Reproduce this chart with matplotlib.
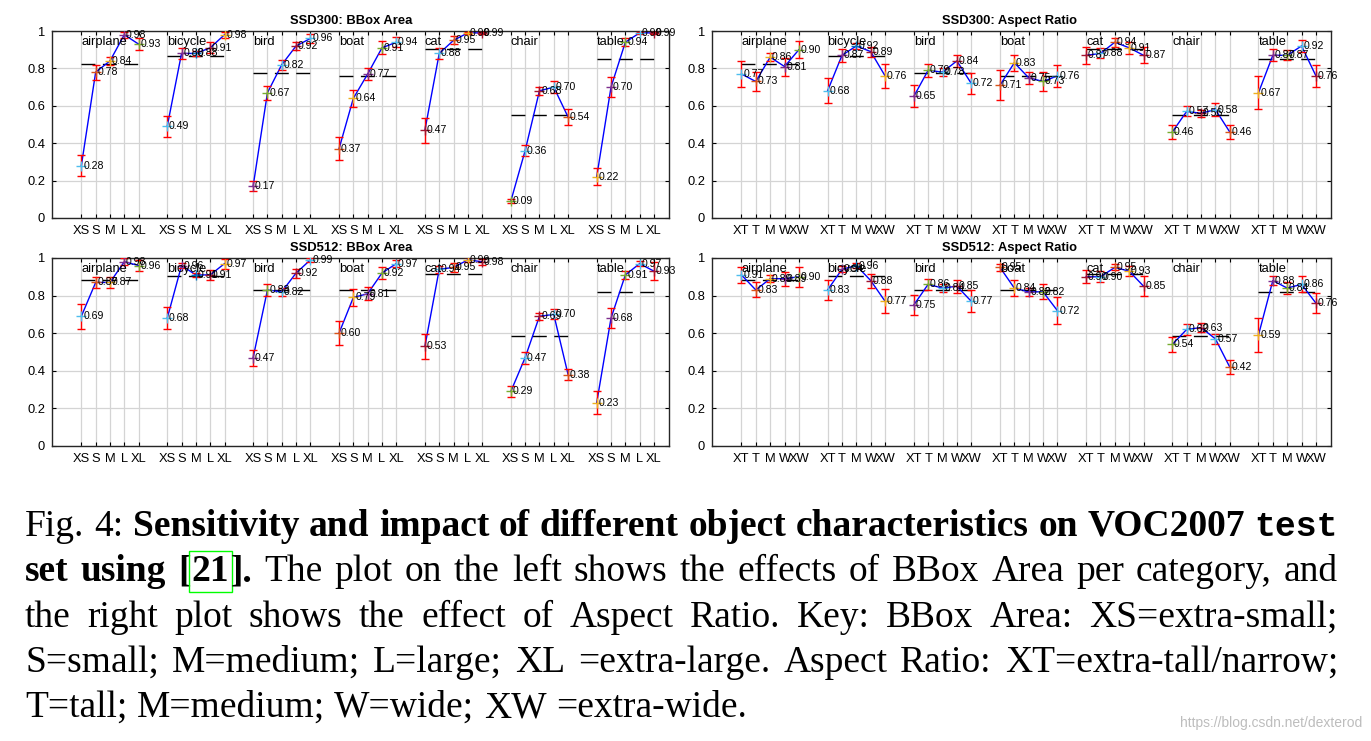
import matplotlib
matplotlib.use("Agg")
import matplotlib.pyplot as plt

# ---------------- data ----------------
categories = ["airplane", "bicycle", "bird", "boat", "cat", "chair", "table"]
area_labels = ["XS", "S", "M", "L", "XL"]
aspect_labels = ["XT", "T", "M", "W", "XW"]

ssd300_overall = [0.824, 0.867, 0.776, 0.758, 0.906, 0.550, 0.849]
ssd512_overall = [0.881, 0.903, 0.828, 0.828, 0.915, 0.584, 0.819]

ssd300_area = [
    [0.28, 0.78, 0.84, 0.98, 0.93],
    [0.49, 0.88, 0.88, 0.91, 0.98],
    [0.17, 0.67, 0.82, 0.92, 0.96],
    [0.37, 0.64, 0.77, 0.91, 0.94],
    [0.47, 0.88, 0.95, 0.99, 0.99],
    [0.09, 0.36, 0.68, 0.70, 0.54],
    [0.22, 0.70, 0.94, 0.99, 0.99],
]
ssd300_area_err = [
    [0.058, 0.040, 0.020, 0.017, 0.034],
    [0.057, 0.028, 0.015, 0.030, 0.015],
    [0.027, 0.037, 0.027, 0.020, 0.024],
    [0.061, 0.045, 0.033, 0.034, 0.027],
    [0.067, 0.028, 0.021, 0.006, 0.006],
    [0.012, 0.030, 0.020, 0.033, 0.041],
    [0.045, 0.053, 0.020, 0.007, 0.007],
]
ssd300_aspect = [
    [0.77, 0.73, 0.86, 0.81, 0.90],
    [0.68, 0.87, 0.92, 0.89, 0.76],
    [0.65, 0.79, 0.78, 0.84, 0.72],
    [0.71, 0.83, 0.75, 0.73, 0.76],
    [0.87, 0.88, 0.94, 0.91, 0.87],
    [0.46, 0.57, 0.56, 0.58, 0.46],
    [0.67, 0.87, 0.87, 0.92, 0.76],
]
ssd300_aspect_err = [
    [0.068, 0.053, 0.022, 0.048, 0.044],
    [0.067, 0.034, 0.014, 0.027, 0.064],
    [0.059, 0.036, 0.020, 0.031, 0.058],
    [0.080, 0.042, 0.033, 0.050, 0.059],
    [0.047, 0.027, 0.024, 0.033, 0.042],
    [0.037, 0.027, 0.020, 0.036, 0.040],
    [0.089, 0.033, 0.027, 0.031, 0.058],
]
ssd512_area = [
    [0.69, 0.87, 0.87, 0.98, 0.96],
    [0.68, 0.96, 0.91, 0.91, 0.97],
    [0.47, 0.83, 0.82, 0.92, 0.99],
    [0.60, 0.79, 0.81, 0.92, 0.97],
    [0.53, 0.94, 0.95, 0.99, 0.98],
    [0.29, 0.47, 0.69, 0.70, 0.38],
    [0.23, 0.68, 0.91, 0.97, 0.93],
]
ssd512_area_err = [
    [0.065, 0.028, 0.028, 0.018, 0.027],
    [0.060, 0.012, 0.012, 0.028, 0.027],
    [0.042, 0.032, 0.021, 0.024, 0.010],
    [0.064, 0.044, 0.034, 0.033, 0.018],
    [0.065, 0.020, 0.023, 0.013, 0.015],
    [0.027, 0.032, 0.020, 0.027, 0.031],
    [0.060, 0.053, 0.022, 0.012, 0.049],
]
ssd512_aspect = [
    [0.91, 0.83, 0.89, 0.89, 0.90],
    [0.83, 0.94, 0.96, 0.88, 0.77],
    [0.75, 0.86, 0.84, 0.85, 0.77],
    [0.95, 0.84, 0.82, 0.82, 0.72],
    [0.90, 0.90, 0.95, 0.93, 0.85],
    [0.54, 0.62, 0.63, 0.57, 0.42],
    [0.59, 0.88, 0.84, 0.86, 0.76],
]
ssd512_aspect_err = [
    [0.042, 0.040, 0.020, 0.037, 0.053],
    [0.051, 0.016, 0.013, 0.037, 0.064],
    [0.055, 0.028, 0.022, 0.034, 0.058],
    [0.017, 0.044, 0.020, 0.040, 0.071],
    [0.035, 0.030, 0.016, 0.025, 0.053],
    [0.041, 0.027, 0.026, 0.027, 0.037],
    [0.089, 0.025, 0.030, 0.042, 0.053],
]

# ---------------- styles ----------------
PALETTE = {
    "B": (0.0, 0.447, 0.741), "O": (0.85, 0.325, 0.098), "Y": (0.929, 0.694, 0.125),
    "P": (0.494, 0.184, 0.556), "G": (0.466, 0.674, 0.188), "C": (0.301, 0.745, 0.933),
    "R": (0.635, 0.078, 0.184),
}
marker_colors = ["COYPG", "CPBRY", "PGCRC", "OYPGC", "RCOYR", "GCRCO", "YPGCR"]

plt.rcParams["font.family"] = ["Liberation Sans", "DejaVu Sans"]

W, H = 1371, 741
fig = plt.figure(figsize=(W / 100, H / 100), dpi=100)
fig.patch.set_facecolor("white")


def px_axes(left, top, right, bottom):
    return fig.add_axes([left / W, (H - bottom) / H, (right - left) / W, (bottom - top) / H])


def draw_panel(ax, vals, errs, overall, xlabels, title, title_x):
    ticks, ticklabels = [], []
    for g, cat in enumerate(categories):
        xs = [g * 6 + i + 1 for i in range(5)]
        ticks += xs
        ticklabels += xlabels
        ax.plot([xs[0], xs[-1]], [overall[g]] * 2, color="k", lw=1.0,
                ls=(0, (10.0, 5.4)), zorder=2)
        ax.plot(xs, vals[g], color=(0, 0, 1), lw=1.0, zorder=3)
        ax.errorbar(xs, vals[g], yerr=errs[g], fmt="none", ecolor=(1, 0, 0),
                    elinewidth=1.0, capsize=2.8, capthick=1.0, zorder=4)
        for i, (x, v) in enumerate(zip(xs, vals[g])):
            ax.plot([x], [v], marker="+", ms=7, mew=1.0, ls="none",
                    color=PALETTE[marker_colors[g][i]], zorder=5)
            ax.annotate(f"{v:.2f}", (x, v), xytext=(1.3, 0), textcoords="offset points",
                        ha="left", va="center", fontsize=7.6, zorder=6)
        ax.text(xs[0], 0.925, cat, ha="left", va="baseline", fontsize=9.3, zorder=7)
    ax.set_xlim(-1.05, 42.05)
    ax.set_ylim(0, 1)
    ax.set_xticks(ticks)
    ax.set_xticklabels(ticklabels)
    ax.set_yticks([0, 0.2, 0.4, 0.6, 0.8, 1.0])
    ax.set_yticklabels(["0", "0.2", "0.4", "0.6", "0.8", "1"])
    ax.tick_params(direction="in", length=3, width=0.8, top=True, right=True,
                   labelsize=9.3, pad=5)
    ax.grid(True, color="#d4d4d4", lw=0.9, zorder=0)
    ax.set_axisbelow(True)
    for sp in ax.spines.values():
        sp.set_linewidth(1.0)
        sp.set_color("#262626")
    ax.set_title(title, fontsize=9.4, fontweight="bold", x=title_x, pad=5)


ax1 = px_axes(52, 31, 669, 218)
ax2 = px_axes(712, 31, 1331, 218)
ax3 = px_axes(52, 258, 669, 446)
ax4 = px_axes(712, 258, 1331, 446)

draw_panel(ax1, ssd300_area, ssd300_area_err, ssd300_overall, area_labels, "SSD300: BBox Area", 0.485)
draw_panel(ax2, ssd300_aspect, ssd300_aspect_err, ssd300_overall, aspect_labels, "SSD300: Aspect Ratio", 0.48)
draw_panel(ax3, ssd512_area, ssd512_area_err, ssd512_overall, area_labels, "SSD512: BBox Area", 0.485)
draw_panel(ax4, ssd512_aspect, ssd512_aspect_err, ssd512_overall, aspect_labels, "SSD512: Aspect Ratio", 0.48)

# ---------------- caption ----------------
def words(s, style):
    return [[(w, style)] for w in s.split()]

caption_lines = [
    words("Fig. 4:", "n") + words("Sensitivity and impact of different object characteristics on VOC2007", "b")
    + [[("test", "m")]],
    words("set using", "b") + [[("[", "b"), ("21", "box"), ("].", "b")]]
    + words("The plot on the left shows the effects of BBox Area per category, and", "n"),
    words("the right plot shows the effect of Aspect Ratio. Key: BBox Area: XS=extra-small;", "n"),
    words("S=small; M=medium; L=large; XL =extra-large. Aspect Ratio: XT=extra-tall/narrow;", "n"),
    words("T=tall; M=medium; W=wide; XW =extra-wide.", "n"),
]
baselines = [536, 581, 627, 672, 717]
justify = [True, True, True, True, False]
CAP_SIZE = 27
LEFT, RIGHT = 25, 1338

style_kw = {
    "n": dict(family="Liberation Serif", fontsize=CAP_SIZE),
    "b": dict(family="Liberation Serif", fontsize=CAP_SIZE, fontweight="bold"),
    "m": dict(family="Liberation Mono", fontsize=CAP_SIZE - 2, fontweight="bold"),
    "box": dict(family="Liberation Serif", fontsize=CAP_SIZE, fontweight="bold",
                bbox=dict(boxstyle="square,pad=0.08", facecolor="none", edgecolor=(0, 1, 0), lw=1.0)),
}

renderer = fig.canvas.get_renderer()
space_px = 0.25 * CAP_SIZE * 100 / 72
for line, base, just in zip(caption_lines, baselines, justify):
    word_objs = []
    for word in line:
        runs = []
        for s, st in word:
            t = fig.text(0, (H - base) / H, s, va="baseline", ha="left", **style_kw[st])
            w = t.get_window_extent(renderer).width
            runs.append((t, w))
        word_objs.append(runs)
    widths = [sum(w for _, w in runs) + 1.0 * (len(runs) - 1) for runs in word_objs]
    total = sum(widths)
    if just and len(word_objs) > 1:
        gap = (RIGHT - LEFT - total) / (len(word_objs) - 1)
    else:
        gap = space_px
    x = LEFT
    for runs, ww in zip(word_objs, widths):
        xx = x
        for t, w in runs:
            t.set_x(xx / W)
            xx += w + 1.0
        x += ww + gap

fig.text(1362 / W, (H - 727) / H, "https://blog.csdn.net/dexterod", ha="right", va="baseline",
         fontsize=10, color="#bdbdbd")

fig.savefig("out.png", dpi=100, facecolor="white")
